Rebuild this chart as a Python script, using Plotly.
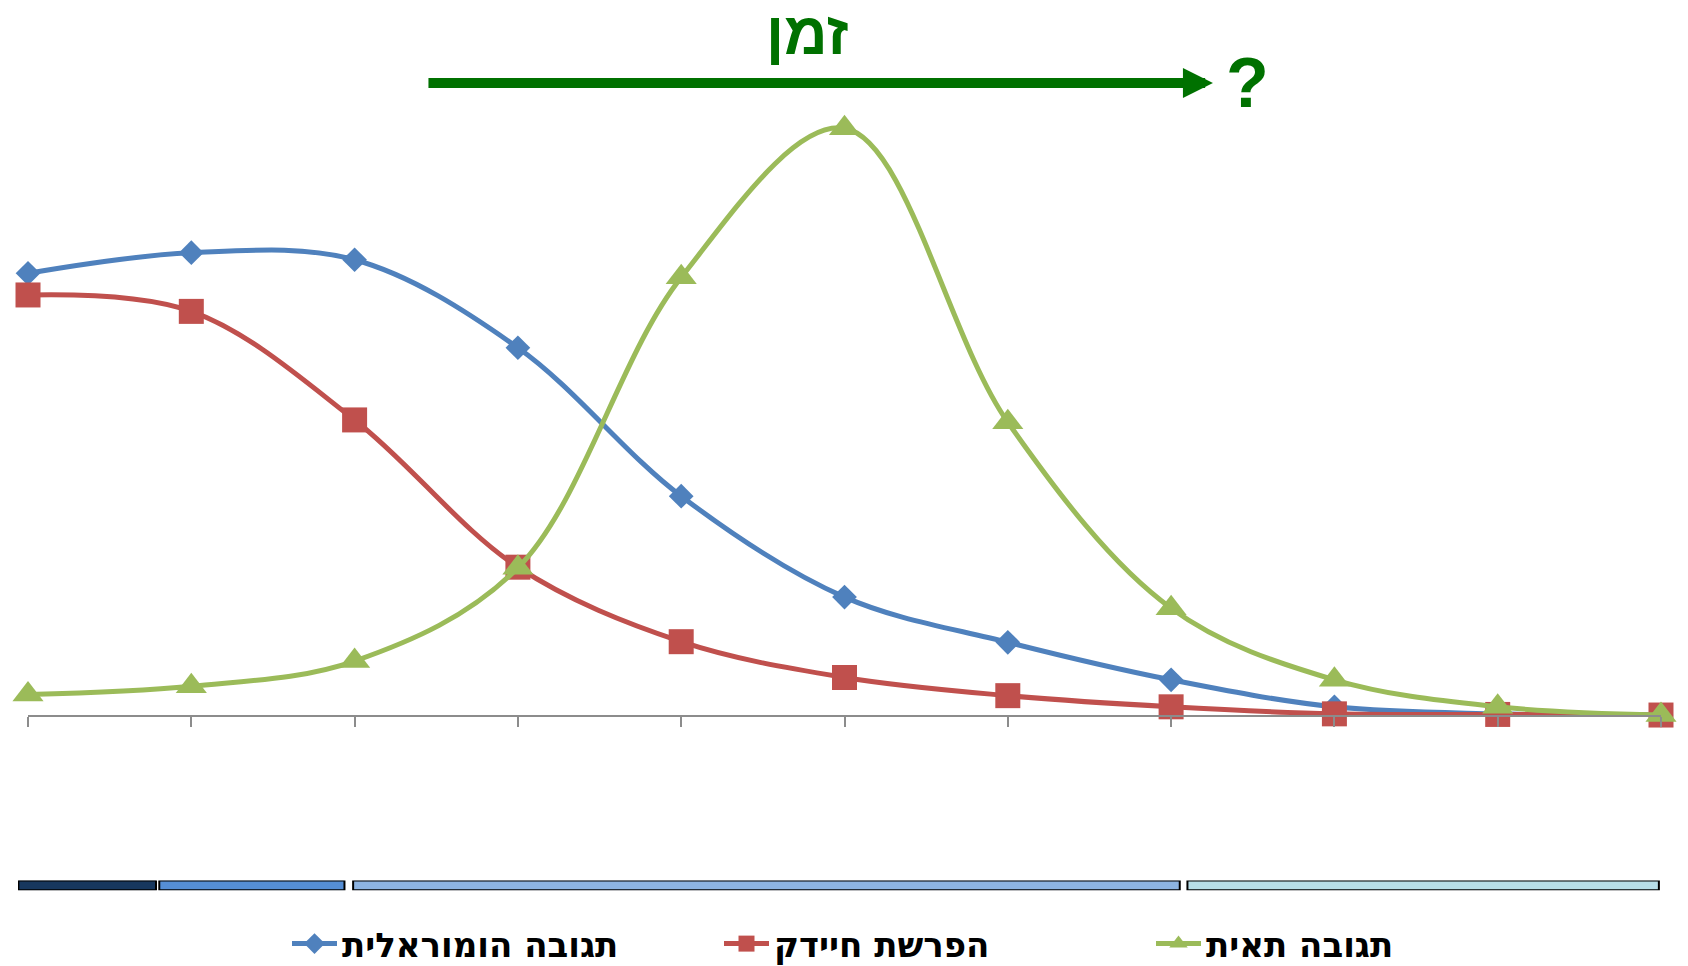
import plotly.graph_objects as go

# ---- data ----
categories = ["1", "2", "3", "4", "5", "6", "7", "8", "9", "10", "11"]
humoral = [75.3, 78.8, 77.6, 62.6, 37.3, 20.1, 12.4, 6.0, 1.4, 0.2, 0.0]
bacteria = [71.6, 68.8, 50.3, 25.2, 12.5, 6.4, 3.3, 1.4, 0.2, 0.1, 0.0]
cellular = [3.5, 4.9, 9.2, 25.1, 74.6, 100.0, 49.9, 18.2, 6.0, 1.4, 0.0]

series_names = ["תגובה הומוראלית", "הפרשת חיידק", "תגובה תאית"]

# timeline phases below the chart (in category units)
phase_start = [-0.059, 0.804, 1.991, 7.100]
phase_end = [0.784, 1.938, 7.053, 9.987]
phase_colors = ["#17375E", "#558ED5", "#8DB4E2", "#B7DEE8"]

title_text = "זמן"
question_text = "?"

# ---- styles ----
BLUE, RED, GREEN = "#4F81BD", "#C0504D", "#9BBB59"
DARKGREEN = "#007100"
FONT = "Liberation Sans, Arial, DejaVu Sans, sans-serif"
LEGEND_FONT = "DejaVu Sans, Liberation Sans, Arial, sans-serif"

fig = go.Figure()

for name, vals, col, sym, size in [
    (series_names[0], humoral, BLUE, "diamond", 19),
    (series_names[1], bacteria, RED, "square", 25),
    (series_names[2], cellular, GREEN, "triangle-up", 27),
]:
    fig.add_trace(go.Scatter(
        x=categories, y=vals, name=name, mode="lines+markers",
        line=dict(color=col, width=5, shape="spline", smoothing=1.0),
        marker=dict(symbol=sym, size=size, color=col, line=dict(width=0)),
        cliponaxis=False, xaxis="x", yaxis="y",
    ))

fig.add_trace(go.Bar(
    x=[e - s for s, e in zip(phase_start, phase_end)],
    base=phase_start,
    y=[0] * len(phase_start),
    orientation="h", width=1,
    marker=dict(color=phase_colors, line=dict(color="black", width=2)),
    showlegend=False, hoverinfo="skip",
    xaxis="x2", yaxis="y2",
))

fig.update_layout(
    width=1688, height=966,
    margin=dict(l=18, r=27, t=11, b=10, autoexpand=False),
    paper_bgcolor="white", plot_bgcolor="white",
    font=dict(family=FONT, color="black"),
    xaxis=dict(
        type="category", domain=[0.00609, 1], range=[0, 10],
        showline=True, linecolor="#8C8C8C", linewidth=1.5,
        ticks="outside", ticklen=10, tickcolor="#8C8C8C", tickwidth=1.5,
        showticklabels=False, showgrid=False, zeroline=False,
        anchor="y",
    ),
    yaxis=dict(
        domain=[0.255, 1], range=[0, 120], visible=False,
        showgrid=False, zeroline=False, anchor="x",
    ),
    xaxis2=dict(
        domain=[0, 1], range=[-0.0612, 10], visible=False,
        showgrid=False, zeroline=False, anchor="y2",
    ),
    yaxis2=dict(
        domain=[0.0695, 0.0799], range=[-0.5, 0.5], visible=False,
        showgrid=False, zeroline=False, anchor="x2",
    ),
    showlegend=True,
    legend=dict(
        orientation="h", x=(287 - 18) / 1643, xanchor="left",
        y=-0.0180, yanchor="bottom",
        itemwidth=45, entrywidth=372, entrywidthmode="pixels",
        font=dict(size=34, color="black", family=LEGEND_FONT, weight="bold"),
        bgcolor="rgba(0,0,0,0)",
    ),
    annotations=[
        dict(text=title_text, x=0.480, y=0.9757, xref="paper", yref="paper",
             xanchor="center", yanchor="middle", showarrow=False,
             font=dict(size=60, color=DARKGREEN, family=FONT, weight="bold")),
        dict(text=question_text, x=0.7484, y=0.9233, xref="paper", yref="paper",
             xanchor="center", yanchor="middle", showarrow=False,
             font=dict(size=70, color=DARKGREEN, family=FONT, weight="bold")),
        dict(text="", x=0.7273, y=0.9238, xref="paper", yref="paper",
             ax=-786, ay=0, showarrow=True, arrowhead=2, arrowsize=0.6,
             arrowwidth=10, arrowcolor=DARKGREEN, standoff=0),
    ],
)

fig.write_html(
    "out.html",
    config={"displayModeBar": False},
    post_script="document.body.style.margin='0';document.body.style.overflow='hidden';",
)
